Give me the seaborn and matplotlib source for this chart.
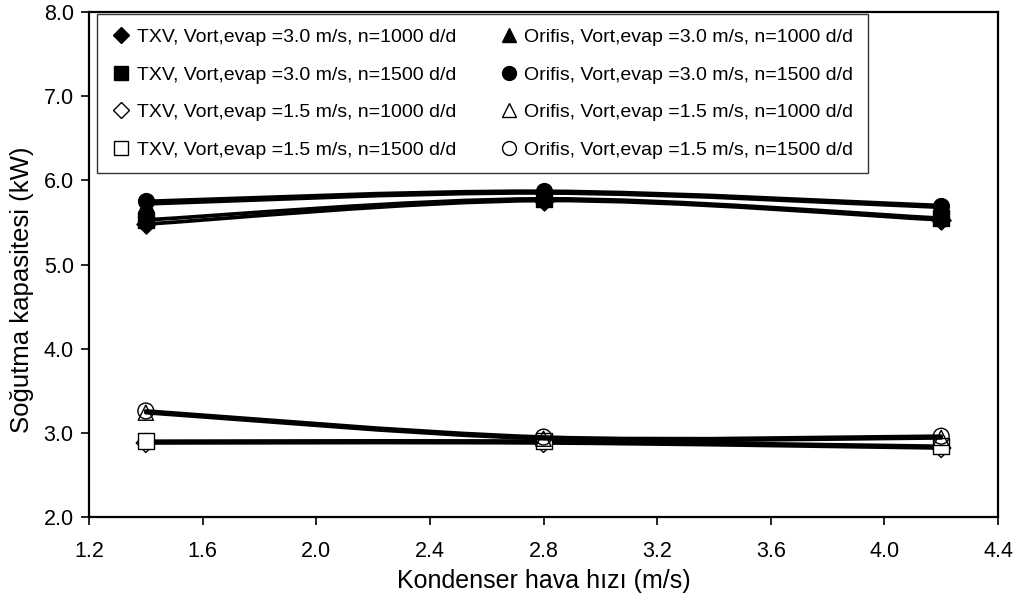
import numpy as np
import matplotlib
matplotlib.use("Agg")
import matplotlib.pyplot as plt
import seaborn as sns
from matplotlib.path import Path
from matplotlib.patches import PathPatch
from matplotlib.lines import Line2D

# ---- data ----
x_vals = [1.4, 2.8, 4.2]
labels = [
    "TXV, Vort,evap =3.0 m/s, n=1000 d/d",
    "TXV, Vort,evap =3.0 m/s, n=1500 d/d",
    "TXV, Vort,evap =1.5 m/s, n=1000 d/d",
    "TXV, Vort,evap =1.5 m/s, n=1500 d/d",
    "Orifis, Vort,evap =3.0 m/s, n=1000 d/d",
    "Orifis, Vort,evap =3.0 m/s, n=1500 d/d",
    "Orifis, Vort,evap =1.5 m/s, n=1000 d/d",
    "Orifis, Vort,evap =1.5 m/s, n=1500 d/d",
]
txv_30_1000 = [5.48, 5.76, 5.53]
txv_30_1500 = [5.53, 5.78, 5.55]
txv_15_1000 = [2.88, 2.88, 2.82]
txv_15_1500 = [2.90, 2.90, 2.84]
ori_30_1000 = [5.72, 5.85, 5.68]
ori_30_1500 = [5.75, 5.87, 5.70]
ori_15_1000 = [3.24, 2.93, 2.94]
ori_15_1500 = [3.26, 2.95, 2.96]
series = [txv_30_1000, txv_30_1500, txv_15_1000, txv_15_1500,
          ori_30_1000, ori_30_1500, ori_15_1000, ori_15_1500]
x_ticks = [1.2, 1.6, 2.0, 2.4, 2.8, 3.2, 3.6, 4.0, 4.4]
y_ticks = [2.0, 3.0, 4.0, 5.0, 6.0, 7.0, 8.0]

# ---- styles ----
markers = ['D', 's', 'D', 's', '^', 'o', '^', 'o']
faces = ['black', 'black', 'none', 'white', 'black', 'black', 'none', 'none']
sizes = [95, 130, 95, 130, 120, 130, 120, 130]

sns.set_theme(style="white")
plt.rcParams['font.family'] = ['Liberation Sans', 'DejaVu Sans']

fig = plt.figure(figsize=(10.22, 6.02), dpi=100)
ax = fig.add_axes([89/1022, 1-517/602, (998-89)/1022, (517-12)/602])


def smooth_path(xs, ys):
    pts = np.column_stack([xs, ys])
    n = len(pts)
    verts = [pts[0]]
    codes = [Path.MOVETO]
    for i in range(n - 1):
        p0 = pts[max(i - 1, 0)]
        p1 = pts[i]
        p2 = pts[i + 1]
        p3 = pts[min(i + 2, n - 1)]
        c1 = p1 + (p2 - p0) / 6.0
        c2 = p2 - (p3 - p1) / 6.0
        verts += [c1, c2, p2]
        codes += [Path.CURVE4] * 3
    return Path(verts, codes)


for k, ys in enumerate(series):
    z = 3 + 2 * k
    patch = PathPatch(smooth_path(x_vals, ys), facecolor='none',
                      edgecolor='black', lw=2.7, zorder=z,
                      capstyle='round', joinstyle='round')
    ax.add_patch(patch)
    sns.scatterplot(x=x_vals, y=ys, marker=markers[k], s=sizes[k],
                    facecolor=faces[k], edgecolor='black', linewidth=1.0,
                    zorder=z + 1, ax=ax, legend=False)

ax.set_xlim(1.2, 4.4)
ax.set_ylim(2.0, 8.0)
ax.set_xticks(x_ticks)
ax.set_yticks(y_ticks)
ax.set_xticklabels([f"{v:.1f}" for v in x_ticks])
ax.set_yticklabels([f"{v:.1f}" for v in y_ticks])
ax.tick_params(axis='both', direction='out', length=6, width=1.2,
               color='black', labelcolor='black', labelsize=15.5,
               bottom=True, left=True, pad=5)
ax.tick_params(axis='x', pad=11)
for sp in ax.spines.values():
    sp.set_visible(True)
    sp.set_color('black')
    sp.set_linewidth(1.6)

ax.set_xlabel("Kondenser hava hızı (m/s)", fontsize=18, labelpad=5,
              color='black')
ax.set_ylabel("Soğutma kapasitesi (kW)", fontsize=18.5,
              color='black', va='center')
ax.yaxis.set_label_coords(-0.074, 0.45)

handles = [Line2D([], [], linestyle='none', marker=markers[k],
                  markersize=10 if markers[k] != 'D' else 8,
                  markerfacecolor=('white' if faces[k] in ('none', 'white') else 'black'),
                  markeredgecolor='black', markeredgewidth=1.0)
           for k in range(8)]
leg = ax.legend(handles, labels, ncol=2, loc='upper left',
                bbox_to_anchor=(8/909, 1-2/505), borderaxespad=0,
                fontsize=14, frameon=True, fancybox=False,
                edgecolor='black', labelspacing=1.02, handlelength=1.0,
                handletextpad=0.3, columnspacing=2.2, borderpad=0.75)
leg.get_frame().set_linewidth(1.0)
for t in leg.get_texts():
    t.set_color('black')
leg.set_zorder(30)

fig.savefig("out.png", dpi=100)
